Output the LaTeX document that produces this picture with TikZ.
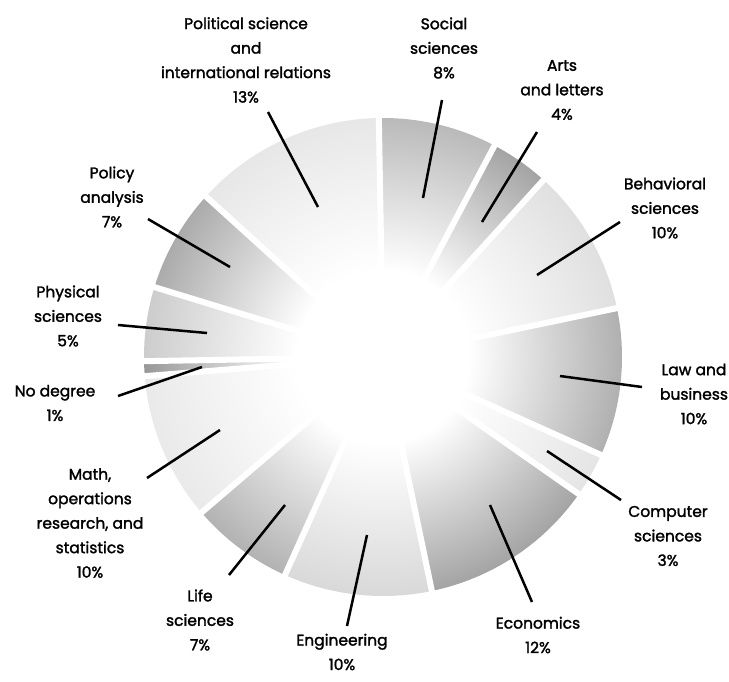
\documentclass[tikz,border=0pt]{standalone}
\usepackage{fontspec}
\setmainfont{Poppins}
\newfontfamily\lblfont{Poppins}[FakeBold=1.8]
\colorlet{slicecol}{black!50}
\colorlet{slicemid}{black!20}
\pgfdeclareradialshading[slicecol,slicemid]{slicesh}{\pgfpoint{0bp}{0bp}}{color(0bp)=(white); color(9bp)=(white); color(26bp)=(slicemid); color(40bp)=(slicecol); color(50bp)=(slicecol)}
\newcommand\pieslice[3]{%
  \colorlet{slicecol}{black!#3}%
  \colorlet{slicemid}{black!\the\numexpr#3/2\relax}%
  \begin{scope}
    \clip (0,0) -- (#1:239) arc[start angle=#1, end angle=#2, radius=239] -- cycle;
    \shade[shading=slicesh] (0,0) circle[radius=239];
  \end{scope}}
\tikzset{
  lbl/.style={align=center, font=\lblfont\fontsize{15.5}{24.5}\selectfont, inner sep=0pt},
  leader/.style={line width=2.5pt, black},
  gapline/.style={white, line width=6pt}
}
\begin{document}
\begin{tikzpicture}[x=1pt, y=-1pt]
\useasboundingbox[fill=white] (0,0) rectangle (729,681);
\begin{scope}[shift={(383,357)}, yscale=-1]
  \pieslice{91}{62.2}{58}
  \pieslice{62.2}{47.8}{75}
  \pieslice{47.8}{11.8}{26}
  \pieslice{11.8}{-24.2}{66}
  \pieslice{-24.2}{-35}{22}
  \pieslice{-35}{-78.2}{76}
  \pieslice{-78.2}{-114.2}{32}
  \pieslice{-114.2}{-139.4}{64}
  \pieslice{-139.4}{-175.4}{18}
  \pieslice{-175.4}{-179}{85}
  \pieslice{-179}{-197}{42}
  \pieslice{-197}{-222.2}{70}
  \pieslice{-222.2}{-269}{20}
  \foreach \a in {91,62.2,47.8,11.8,-24.2,-35,-78.2,-114.2,-139.4,-175.4,-179,-197,-222.2}
    \draw[gapline] (0,0) -- (\a:250);
\end{scope}

\node[lbl] (pol) at (246,60) {Political science\\and\\international relations\\13\%};
\node[lbl] (soc) at (444,48) {Social\\sciences\\8\%};
\node[lbl] (arts) at (562,90) {Arts\\and letters\\4\%};
\node[lbl] (beh) at (665,208) {Behavioral\\sciences\\10\%};
\node[lbl] (law) at (694,394) {Law and\\business\\10\%};
\node[lbl] (comp) at (668,536) {Computer\\sciences\\3\%};
\node[lbl] (econ) at (538,635) {Economics\\12\%};
\node[lbl] (eng) at (342,652) {Engineering\\10\%};
\node[lbl] (life) at (200,620) {Life\\sciences\\7\%};
\node[lbl] (math) at (90,523) {Math,\\operations\\research, and\\statistics\\10\%};
\node[lbl] (nodeg) at (55,403) {No degree\\1\%};
\node[lbl] (phys) at (68,316) {Physical\\sciences\\5\%};
\node[lbl] (pola) at (112,197) {Policy\\analysis\\7\%};

\coordinate (polA) at (268,112); \coordinate (polB) at (318,207);
\coordinate (socA) at (442,100); \coordinate (socB) at (423,198);
\coordinate (artsA) at (537,132); \coordinate (artsB) at (482,222);
\coordinate (behA) at (620,222); \coordinate (behB) at (537,275);
\coordinate (lawA) at (642,387); \coordinate (lawB) at (560,376);
\coordinate (compA) at (621,500); \coordinate (compB) at (547,451);
\coordinate (econA) at (532,602); \coordinate (econB) at (490,505);
\coordinate (engA) at (347,626); \coordinate (engB) at (367,535);
\coordinate (lifeA) at (229,575); \coordinate (lifeB) at (285,505);
\coordinate (mathA) at (147,478); \coordinate (mathB) at (220,430);
\coordinate (nodegA) at (118,396); \coordinate (nodegB) at (202,367);
\coordinate (physA) at (118,325); \coordinate (physB) at (207,333);
\coordinate (polaA) at (148,219); \coordinate (polaB) at (230,267);

\foreach \n in {pol,soc,arts,beh,law,comp,econ,eng,life,math,nodeg,phys,pola}
  \draw[leader] (\n A) -- (\n B);
\end{tikzpicture}
\end{document}
